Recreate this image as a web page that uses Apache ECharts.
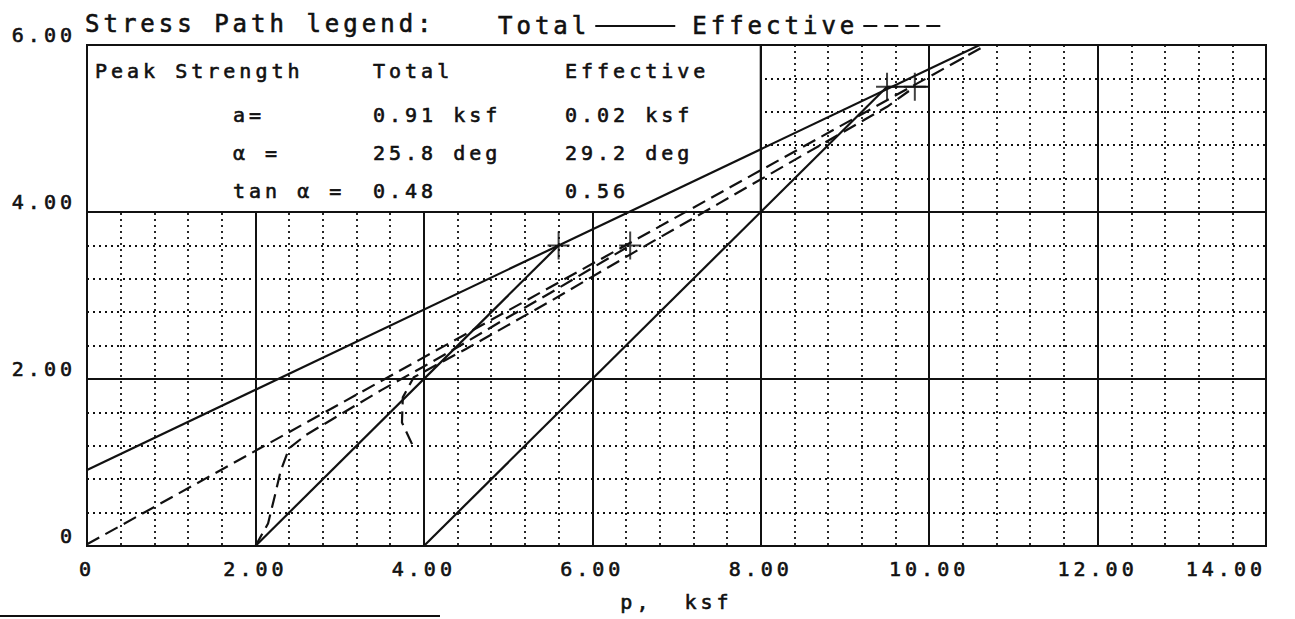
<!DOCTYPE html>
<html><head><meta charset="utf-8">
<script src="https://cdn.jsdelivr.net/npm/echarts@6/dist/echarts.min.js"></script>
<style>
html,body{margin:0;padding:0;background:#fff;}
#chart{width:1295px;height:619px;}
#chart text{letter-spacing:4px;stroke:#111;stroke-width:0.6px;}
</style></head><body><div id="chart"></div>
<script>
// ---- data ----
const xTickLabels = ['0','2.00','4.00','6.00','8.00','10.00','12.00','14.00'];
const yTickLabels = ['0','2.00','4.00','6.00'];

const totalEnvelope = [[0,0.91],[10.6,6.0]];
const effectiveEnvelope = [[0,0.02],[10.68,6.0]];
const totalPath1 = [[2,0],[5.6,3.6]];
const totalPath2 = [[4,0],[9.5,5.5]];
const peakLink = [[9.5,5.5],[10,5.5]];
const effectivePath1 = [[2,0],[2.15,0.27],[2.23,0.6],[2.3,0.9],[2.4,1.17],[2.6,1.33],[3.0,1.57],[3.5,1.87],[4.0,2.15],[4.5,2.44],[5.0,2.74],[5.5,3.03],[6.0,3.33],[6.45,3.6]];
const effectivePath2 = [[3.86,1.22],[3.74,1.48],[3.75,1.78],[3.88,2.02],[4.5,2.36],[5.5,2.93],[6.5,3.52],[7.5,4.1],[8.5,4.68],[9.5,5.26],[9.83,5.5]];
const totalPeaks = [[5.6,3.6],[9.5,5.5]];
const effectivePeaks = [[6.45,3.6],[9.83,5.5]];

const tableHeader = ['Peak Strength','Total','Effective'];
const tableRowLabels = ['a=','α =','tan α ='];
const totalValues = ['0.91 ksf','25.8 deg','0.48'];
const effectiveValues = ['0.02 ksf','29.2 deg','0.56'];

// ---- chart ----
const FONT = "'DejaVu Sans Mono', monospace";
const INK = '#111';
const chart = echarts.init(document.getElementById('chart'), null, {renderer:'svg'});

const solid = {color:INK, width:2.2};
const dashed = {color:INK, width:2.2, type:[14,7]};
function lineSeries(name, data, style){
  return {type:'line', name:name, data:data, symbol:'none', showSymbol:false, silent:true, z:3, lineStyle:style, itemStyle:{color:INK}};
}
const crossPath = 'path://M0,13h22v2h-22z M10,0h2v28h-2z';

const colX = [95, 373, 565];
const labelX = 233;
const rowY = [71, 115, 153, 191];
const texts = [];
function addText(t, x, y){
  texts.push({type:'text', z:100, style:{text:t, x:x, y:y, fill:INK, font:'20px ' + FONT, verticalAlign:'middle'}});
}
tableHeader.forEach((t,i)=>addText(t, colX[i], rowY[0]));
tableRowLabels.forEach((t,i)=>addText(t, labelX, rowY[i+1]));
totalValues.forEach((t,i)=>addText(t, colX[1], rowY[i+1]));
effectiveValues.forEach((t,i)=>addText(t, colX[2], rowY[i+1]));
texts.push({type:'text', z:100, style:{text:'Stress Path legend:', x:85, y:24, fill:INK, font:'24px ' + FONT, verticalAlign:'middle'}});
texts.push({type:'line', z:100, shape:{x1:0,y1:616,x2:440,y2:616}, style:{stroke:INK, lineWidth:2}});

const axisCommon = {
  min:0, interval:2,
  axisLine:{show:true, lineStyle:{color:INK, width:2}},
  axisTick:{show:false},
  minorTick:{show:false, splitNumber:5},
  splitLine:{show:true, lineStyle:{color:INK, width:2}},
  minorSplitLine:{show:true, lineStyle:{color:'#111', width:1.8, type:[2,4]}},
};

chart.setOption({
  animation:false,
  backgroundColor:'#fff',
  grid:{left:87, right:29, top:45, bottom:73, show:true, borderColor:INK, borderWidth:2},
  legend:{
    data:['Total','Effective'], selectedMode:false, align:'right',
    left:513, top:9, itemWidth:80, itemHeight:14, itemGap:52,
    itemStyle:{opacity:0},
    textStyle:{fontFamily:FONT, fontSize:24, color:INK}
  },
  xAxis:Object.assign({}, axisCommon, {
    type:'value', max:14,
    name:'p,  ksf', nameLocation:'middle', nameGap:46,
    nameTextStyle:{fontFamily:FONT, fontSize:20, color:INK},
    axisLabel:{margin:13, fontFamily:FONT, fontSize:20, color:INK, alignMaxLabel:'right',
      formatter:v=>xTickLabels[Math.round(v/2)]}
  }),
  yAxis:Object.assign({}, axisCommon, {
    type:'value', max:6,
    axisLabel:{margin:11, fontFamily:FONT, fontSize:20, color:INK, verticalAlign:'bottom',
      formatter:v=>yTickLabels[Math.round(v/2)]}
  }),
  graphic:texts,
  series:[
    {type:'line', name:'box', data:[], z:1, silent:true,
      markArea:{silent:true, itemStyle:{color:'#fff', borderColor:INK, borderWidth:2},
        data:[[{coord:[0,4]},{coord:[8,6]}]]}},
    lineSeries('Total', totalEnvelope, solid),
    lineSeries('Effective', effectiveEnvelope, dashed),
    lineSeries('Total', totalPath1, solid),
    lineSeries('Total', totalPath2, solid),
    lineSeries('Total', peakLink, solid),
    lineSeries('Effective', effectivePath1, dashed),
    lineSeries('Effective', effectivePath2, dashed),
    {type:'scatter', name:'Total peak', data:totalPeaks, symbol:crossPath, symbolSize:[22,28], itemStyle:{color:INK}, z:4, silent:true},
    {type:'scatter', name:'Effective peak', data:effectivePeaks, symbol:crossPath, symbolSize:[22,28], itemStyle:{color:INK}, z:4, silent:true}
  ]
});
</script></body></html>
